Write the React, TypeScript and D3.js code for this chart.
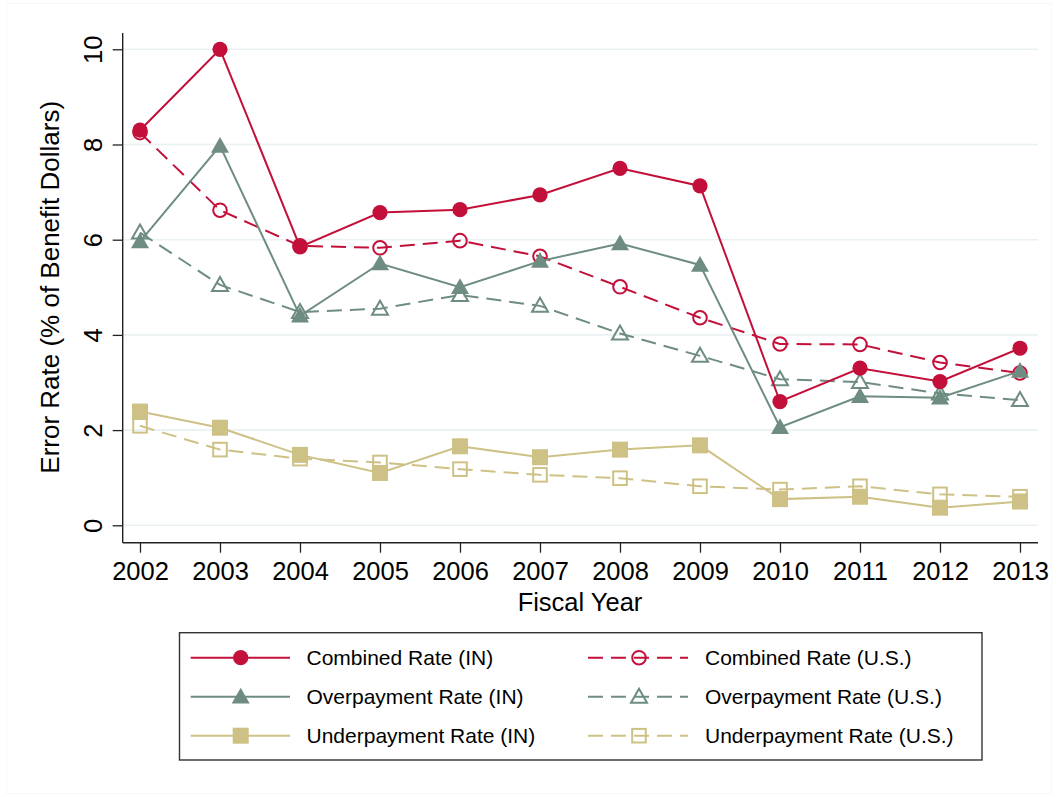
import * as d3 from "d3";
import { useEffect, useRef } from "react";

// fiscal years on the x axis
const years = [2002, 2003, 2004, 2005, 2006, 2007, 2008, 2009, 2010, 2011, 2012, 2013];
const yTicks = [0, 2, 4, 6, 8, 10];

// error rates, % of benefit dollars
const combinedIN = [8.3, 10.0, 5.85, 6.57, 6.63, 6.94, 7.5, 7.13, 2.6, 3.3, 3.02, 3.72];
const combinedUS = [8.25, 6.62, 5.87, 5.83, 5.98, 5.65, 5.01, 4.36, 3.81, 3.8, 3.42, 3.2];
const overIN = [5.96, 7.97, 4.4, 5.5, 5.0, 5.55, 5.92, 5.47, 2.06, 2.71, 2.68, 3.24];
const overUS = [6.15, 5.05, 4.48, 4.55, 4.84, 4.61, 4.03, 3.56, 3.07, 3.01, 2.77, 2.63];
const underIN = [2.39, 2.05, 1.48, 1.1, 1.66, 1.43, 1.59, 1.68, 0.55, 0.6, 0.37, 0.5];
const underUS = [2.09, 1.59, 1.4, 1.32, 1.18, 1.06, 0.99, 0.82, 0.75, 0.82, 0.65, 0.6];

const RED = "#C3103A";
const GREEN = "#6E8D80";
const KHAKI = "#CDC186";

type Marker = "circle" | "triangle" | "square";

interface Series {
	label: string;
	values: number[];
	color: string;
	marker: Marker;
	filled: boolean;
}

const series: Series[] = [
	{ label: "Combined Rate (U.S.)", values: combinedUS, color: RED, marker: "circle", filled: false },
	{ label: "Overpayment Rate (U.S.)", values: overUS, color: GREEN, marker: "triangle", filled: false },
	{ label: "Underpayment Rate (U.S.)", values: underUS, color: KHAKI, marker: "square", filled: false },
	{ label: "Underpayment Rate (IN)", values: underIN, color: KHAKI, marker: "square", filled: true },
	{ label: "Overpayment Rate (IN)", values: overIN, color: GREEN, marker: "triangle", filled: true },
	{ label: "Combined Rate (IN)", values: combinedIN, color: RED, marker: "circle", filled: true },
];

const legendLeft = [
	"Combined Rate (IN)",
	"Overpayment Rate (IN)",
	"Underpayment Rate (IN)",
];
const legendRight = [
	"Combined Rate (U.S.)",
	"Overpayment Rate (U.S.)",
	"Underpayment Rate (U.S.)",
];

const W = 1058;
const H = 797;
const FONT = "'Liberation Sans', Arial, Helvetica, sans-serif";

const drawMarker = (
	g: d3.Selection<SVGGElement, unknown, null, undefined>,
	s: Series,
	x: number,
	y: number
) => {
	const fill = s.filled ? s.color : "none";
	const sw = s.filled ? 0 : 2;
	if (s.marker === "circle") {
		const r = s.filled ? 7.6 : 6.8;
		g.append("circle")
			.attr("cx", x)
			.attr("cy", y)
			.attr("r", r)
			.attr("fill", fill)
			.attr("stroke", s.color)
			.attr("stroke-width", sw);
	} else if (s.marker === "square") {
		const h = s.filled ? 8 : 6.8;
		g.append("rect")
			.attr("x", x - h)
			.attr("y", y - h)
			.attr("width", h * 2)
			.attr("height", h * 2)
			.attr("fill", fill)
			.attr("stroke", s.color)
			.attr("stroke-width", sw);
	} else {
		const a = s.filled ? 9 : 8;
		const pts = [
			[x, y - a],
			[x + a * 1.0, y + a * 0.75],
			[x - a * 1.0, y + a * 0.75],
		];
		g.append("polygon")
			.attr("points", pts.map((p) => p.join(",")).join(" "))
			.attr("fill", fill)
			.attr("stroke", s.color)
			.attr("stroke-width", sw)
			.attr("stroke-linejoin", "miter");
	}
};

const App = () => {
	const svgRef = useRef<SVGSVGElement | null>(null);

	useEffect(() => {
		const svg = d3.select(svgRef.current);
		svg.selectAll("*").remove();

		const xScale = d3
			.scalePoint<number>()
			.domain(years)
			.range([140, 1020]);
		const yScale = d3.scaleLinear().domain([0, 10]).range([525.3, 49.3]);

		const plotLeft = 122.7;
		const plotRight = 1038;
		const plotTop = 33;
		const plotBottom = 542.7;

		svg.append("rect").attr("width", W).attr("height", H).attr("fill", "white");
		// very faint frame round the graph region
		svg.append("rect")
			.attr("x", 6.5)
			.attr("y", 3.5)
			.attr("width", W - 13)
			.attr("height", H - 7)
			.attr("fill", "none")
			.attr("stroke", "#f7f8f8");

		// gridlines
		svg.append("g")
			.selectAll("line")
			.data(yTicks)
			.enter()
			.append("line")
			.attr("x1", plotLeft)
			.attr("x2", plotRight)
			.attr("y1", (d) => yScale(d))
			.attr("y2", (d) => yScale(d))
			.attr("stroke", "#E9F1F2")
			.attr("stroke-width", 1.6);

		// y axis
		const yAxis = d3
			.axisLeft(yScale)
			.tickValues(yTicks)
			.tickSize(10)
			.tickFormat((d) => `${d}`);
		const yg = svg
			.append("g")
			.attr("transform", `translate(${plotLeft},0)`)
			.call(yAxis);
		yg.select(".domain").remove();
		yg.selectAll(".tick line").attr("stroke", "#222").attr("stroke-width", 1.3);
		yg.selectAll(".tick text")
			.attr("x", null)
			.attr("dy", null)
			.attr("text-anchor", "middle")
			.attr("transform", "translate(-21,0) rotate(-90)")
			.attr("font-family", FONT)
			.attr("font-size", 25.5)
			.attr("fill", "#000");
		yg.append("line")
			.attr("x1", 0)
			.attr("x2", 0)
			.attr("y1", plotTop)
			.attr("y2", plotBottom)
			.attr("stroke", "#222")
			.attr("stroke-width", 1.4);

		// x axis
		const xAxis = d3
			.axisBottom(xScale)
			.tickSize(10)
			.tickFormat((d) => `${d}`);
		const xg = svg
			.append("g")
			.attr("transform", `translate(0,${plotBottom})`)
			.call(xAxis);
		xg.select(".domain").remove();
		xg.selectAll(".tick line").attr("stroke", "#222").attr("stroke-width", 1.3);
		xg.selectAll(".tick text")
			.attr("y", 37)
			.attr("dy", null)
			.attr("font-family", FONT)
			.attr("font-size", 25.5)
			.attr("fill", "#000");
		xg.append("line")
			.attr("x1", plotLeft)
			.attr("x2", plotRight)
			.attr("y1", 0)
			.attr("y2", 0)
			.attr("stroke", "#222")
			.attr("stroke-width", 1.4);

		// axis titles
		svg.append("text")
			.attr("x", (140 + 1020) / 2)
			.attr("y", 611)
			.attr("text-anchor", "middle")
			.attr("font-family", FONT)
			.attr("font-size", 25.5)
			.text("Fiscal Year");
		svg.append("text")
			.attr("transform", `translate(59,${(49.3 + 525.3) / 2}) rotate(-90)`)
			.attr("text-anchor", "middle")
			.attr("font-family", FONT)
			.attr("font-size", 26)
			.text("Error Rate (% of Benefit Dollars)");

		// series
		const line = d3
			.line<number>()
			.x((_, i) => xScale(years[i])!)
			.y((d) => yScale(d));
		const sg = svg.append("g");
		series.forEach((s) => {
			sg.append("path")
				.datum(s.values)
				.attr("d", line)
				.attr("fill", "none")
				.attr("stroke", s.color)
				.attr("stroke-width", 2)
				.attr("stroke-dasharray", s.filled ? null : "15,8");
			const mg = sg.append("g");
			s.values.forEach((v, i) => drawMarker(mg, s, xScale(years[i])!, yScale(v)));
		});

		// legend
		const lg = svg.append("g");
		lg.append("rect")
			.attr("x", 179.5)
			.attr("y", 632.7)
			.attr("width", 982 - 179.5)
			.attr("height", 760 - 632.7)
			.attr("fill", "white")
			.attr("stroke", "#333")
			.attr("stroke-width", 1.4);
		const rowY = [657.7, 696.7, 735.7];
		const drawCol = (labels: string[], x0: number, x1: number, mx: number, tx: number) => {
			labels.forEach((lab, i) => {
				const s = series.find((d) => d.label === lab)!;
				const y = rowY[i];
				lg.append("line")
					.attr("x1", x0)
					.attr("x2", x1)
					.attr("y1", y)
					.attr("y2", y)
					.attr("stroke", s.color)
					.attr("stroke-width", 2)
					.attr("stroke-dasharray", s.filled ? null : "15,8");
				drawMarker(lg, s, mx, y);
				lg.append("text")
					.attr("x", tx)
					.attr("y", y + 7.5)
					.attr("font-family", FONT)
					.attr("font-size", 21)
					.text(lab);
			});
		};
		drawCol(legendLeft, 190.7, 290, 240.7, 306.5);
		drawCol(legendRight, 588, 688, 639, 705);
	}, []);

	return (
		<div style={{ position: "absolute", left: 0, top: 0 }}>
			<svg ref={svgRef} width={W} height={H} style={{ display: "block" }} />
		</div>
	);
};

export default App;
